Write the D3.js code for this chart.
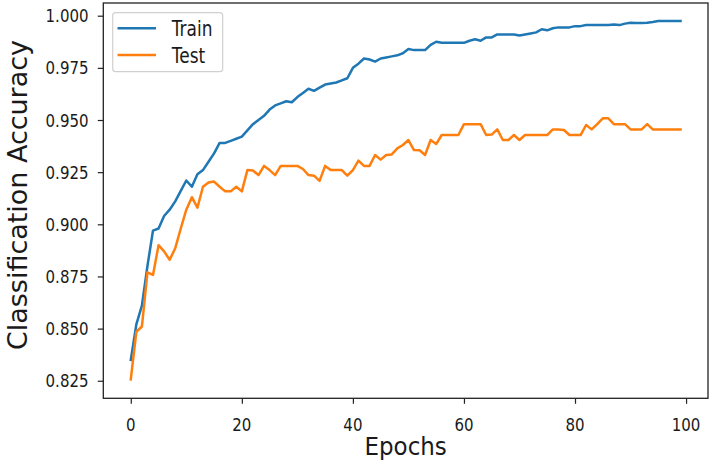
<!DOCTYPE html>
<html>
<head>
<meta charset="utf-8">
<script src="https://cdn.jsdelivr.net/npm/d3@7"></script>
<style>
html,body{margin:0;padding:0;background:#fff;}
svg{display:block;}
text{font-family:"DejaVu Sans",sans-serif;fill:#1a1a1a;}
</style>
</head>
<body>
<svg id="chart" width="712" height="465"></svg>
<script>
const epochs = d3.range(0, 100);
const trainAcc = [
0.835,0.852,0.861,0.880,0.897,0.898,0.904,0.907,0.911,0.916,
0.921,0.918,0.924,0.926,0.930,0.934,0.939,0.939,0.940,0.941,
0.942,0.945,0.948,0.950,0.952,0.955,0.957,0.958,0.959,0.9585,
0.961,0.963,0.965,0.964,0.9655,0.967,0.9675,0.968,0.969,0.970,
0.975,0.977,0.9795,0.979,0.978,0.9795,0.980,0.9805,0.981,0.982,
0.984,0.9835,0.9835,0.9835,0.986,0.9875,0.987,0.987,0.987,0.987,
0.987,0.988,0.9887,0.988,0.9896,0.9896,0.991,0.991,0.991,0.991,
0.9905,0.991,0.9915,0.992,0.9935,0.993,0.994,0.9944,0.9944,0.9944,
0.995,0.995,0.9955,0.9955,0.9955,0.9955,0.9955,0.9958,0.9955,0.9962,
0.9966,0.9965,0.9965,0.9966,0.997,0.9975,0.9975,0.9975,0.9975,0.9975
];
const testAcc = [
0.8257,0.8485,0.851,0.877,0.8757,0.890,0.887,0.883,0.8885,0.898,
0.907,0.913,0.908,0.918,0.920,0.9205,0.918,0.9158,0.9158,0.918,
0.9158,0.926,0.9258,0.9236,0.928,0.926,0.9236,0.928,0.928,0.928,
0.928,0.9265,0.9236,0.9233,0.9208,0.928,0.926,0.926,0.926,0.9233,
0.926,0.9305,0.928,0.928,0.9332,0.931,0.9332,0.9335,0.9364,0.938,
0.9404,0.9356,0.9355,0.9332,0.9404,0.9385,0.9428,0.9428,0.9428,0.9428,
0.948,0.948,0.948,0.948,0.9428,0.943,0.9455,0.9404,0.9404,0.9428,
0.9404,0.9428,0.9428,0.9428,0.9428,0.9428,0.9455,0.9455,0.9452,0.9428,
0.9428,0.9428,0.9476,0.9455,0.948,0.9508,0.9508,0.948,0.948,0.948,
0.9455,0.9455,0.9455,0.948,0.9455,0.9455,0.9455,0.9455,0.9455,0.9455
];
const seriesNames = ["Train", "Test"];
const seriesColors = ["#1f77b4", "#ff7f0e"];
const xTicks = [0, 20, 40, 60, 80, 100];
const yTicks = [0.825, 0.850, 0.875, 0.900, 0.925, 0.950, 0.975, 1.000];
const xLabel = "Epochs";
const yLabel = "Classification Accuracy";

const svg = d3.select("#chart");
const L = 103.3, R = 708, T = 3, B = 398.3;
const x = d3.scaleLinear().domain([-4.95, 103.95]).range([L, R]);
const y = d3.scaleLinear().domain([0.81659, 1.00609]).range([B, T]);
const SY = 1.22;

function stretchedText(g, tx, ty, str, size, anchor, baseline, sy) {
  return g.append("text")
    .attr("transform", `translate(${tx},${ty}) scale(1,${sy})`)
    .attr("text-anchor", anchor)
    .attr("dominant-baseline", baseline)
    .style("font-size", size + "px")
    .text(str);
}

// lines
const line = d3.line().x((d, i) => x(epochs[i])).y(d => y(d));
[trainAcc, testAcc].forEach((s, k) => {
  svg.append("path").datum(s)
    .attr("d", line)
    .attr("fill", "none")
    .attr("stroke", seriesColors[k])
    .attr("stroke-width", 2.5)
    .attr("stroke-linejoin", "round")
    .attr("stroke-linecap", "square");
});

// frame
svg.append("rect").attr("x", L).attr("y", T).attr("width", R - L).attr("height", B - T)
  .attr("fill", "none").attr("stroke", "#222").attr("stroke-width", 1.3);

// axes ticks
const xAxis = d3.axisBottom(x).tickValues(xTicks).tickSize(5.5).tickFormat("");
const gx = svg.append("g").attr("transform", `translate(0,${B})`).call(xAxis);
gx.select(".domain").remove();
gx.selectAll("line").attr("stroke", "#222").attr("stroke-width", 1.2);
const yAxis = d3.axisLeft(y).tickValues(yTicks).tickSize(5.5).tickFormat("");
const gy = svg.append("g").attr("transform", `translate(${L},0)`).call(yAxis);
gy.select(".domain").remove();
gy.selectAll("line").attr("stroke", "#222").attr("stroke-width", 1.2);

const labels = svg.append("g");
xTicks.forEach(t => stretchedText(labels, x(t), 431, String(t), 15, "middle", "alphabetic", SY));
yTicks.forEach(t => stretchedText(labels, 88.5, y(t), d3.format(".3f")(t), 15, "end", "central", SY));

// axis titles
stretchedText(labels, (L + R) / 2, 455, xLabel, 23, "middle", "alphabetic", 1.05);
labels.append("text")
  .attr("transform", `translate(27,195) rotate(-90)`)
  .attr("text-anchor", "middle")
  .attr("textLength", 310)
  .attr("lengthAdjust", "spacingAndGlyphs")
  .style("font-size", "26px")
  .text(yLabel);

// legend
const lg = svg.append("g");
lg.append("rect").attr("x", 112.7).attr("y", 12.7).attr("width", 110).attr("height", 59)
  .attr("rx", 3).attr("fill", "#fff").attr("fill-opacity", 0.8)
  .attr("stroke", "#d0d0d0").attr("stroke-width", 1.2);
const legY = [28.3, 55];
seriesNames.forEach((n, k) => {
  lg.append("line").attr("x1", 117.5).attr("x2", 156).attr("y1", legY[k]).attr("y2", legY[k])
    .attr("stroke", seriesColors[k]).attr("stroke-width", 2.5);
  stretchedText(lg, 171.7, legY[k], n, 17, "start", "central", SY);
});
</script>
</body>
</html>
